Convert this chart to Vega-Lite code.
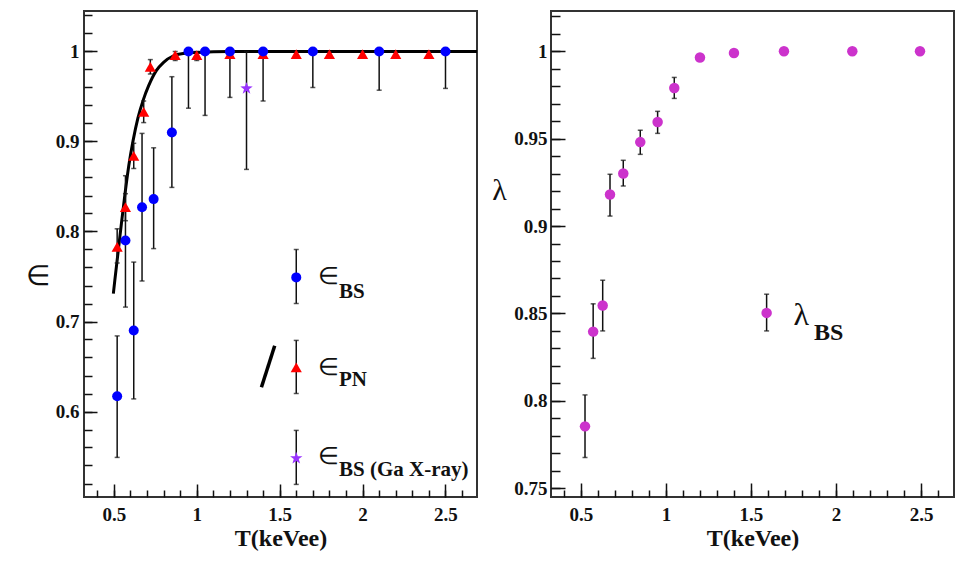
{
  "$schema": "https://vega.github.io/schema/vega-lite/v6.json",
  "background": "white",
  "padding": {"left": 24, "top": 10, "right": 7, "bottom": 5},
  "spacing": 74,
  "bounds": "flush",
  "config": {
    "view": {"stroke": "#333", "strokeWidth": 2},
    "axis": {"labelFont": "Liberation Serif", "labelFontWeight": "bold", "labelFontSize": 19, "labelColor": "#111", "titleFont": "Liberation Serif", "titleColor": "#111", "tickColor": "#111", "tickWidth": 1.5, "domain": false, "grid": false, "labelFlush": false, "labelOverlap": false}
  },
  "datasets": {
    "curve": [
      {"T": 0.497, "eff": 0.731}, {"T": 0.506, "eff": 0.746}, {"T": 0.54, "eff": 0.8}, {"T": 0.566, "eff": 0.84},
      {"T": 0.59, "eff": 0.873}, {"T": 0.616, "eff": 0.901}, {"T": 0.645, "eff": 0.926}, {"T": 0.677, "eff": 0.946},
      {"T": 0.71, "eff": 0.962}, {"T": 0.757, "eff": 0.979}, {"T": 0.8, "eff": 0.988}, {"T": 0.857, "eff": 0.995},
      {"T": 0.93, "eff": 0.998}, {"T": 1.0, "eff": 0.999}, {"T": 1.2, "eff": 1.0}, {"T": 2.69, "eff": 1.0}
    ],
    "eps": [
      {"s": "BS", "T": 0.52, "eff": 0.617, "lo": 0.549, "hi": 0.684},
      {"s": "BS", "T": 0.57, "eff": 0.79, "lo": 0.716, "hi": 0.862},
      {"s": "BS", "T": 0.62, "eff": 0.69, "lo": 0.614, "hi": 0.766},
      {"s": "BS", "T": 0.67, "eff": 0.827, "lo": 0.745, "hi": 0.909},
      {"s": "BS", "T": 0.74, "eff": 0.836, "lo": 0.781, "hi": 0.893},
      {"s": "BS", "T": 0.85, "eff": 0.91, "lo": 0.849, "hi": 0.972},
      {"s": "BS", "T": 0.95, "eff": 1.0, "lo": 0.937, "hi": 1.0},
      {"s": "BS", "T": 1.05, "eff": 1.0, "lo": 0.929, "hi": 1.0},
      {"s": "BS", "T": 1.2, "eff": 1.0, "lo": 0.949, "hi": 1.0},
      {"s": "BS", "T": 1.4, "eff": 1.0, "lo": 0.945, "hi": 1.0},
      {"s": "BS", "T": 1.7, "eff": 1.0, "lo": 0.96, "hi": 1.0},
      {"s": "BS", "T": 2.1, "eff": 1.0, "lo": 0.957, "hi": 1.0},
      {"s": "BS", "T": 2.5, "eff": 1.0, "lo": 0.959, "hi": 1.0},
      {"s": "PN", "T": 0.52, "eff": 0.783, "lo": 0.765, "hi": 0.803},
      {"s": "PN", "T": 0.57, "eff": 0.827, "lo": 0.812, "hi": 0.842},
      {"s": "PN", "T": 0.62, "eff": 0.884, "lo": 0.87, "hi": 0.898},
      {"s": "PN", "T": 0.68, "eff": 0.933, "lo": 0.921, "hi": 0.945},
      {"s": "PN", "T": 0.72, "eff": 0.983, "lo": 0.975, "hi": 0.991},
      {"s": "PN", "T": 0.87, "eff": 0.996, "lo": 0.99, "hi": 1.0},
      {"s": "PN", "T": 1.0, "eff": 0.996, "lo": 0.99, "hi": 1.0},
      {"s": "PN", "T": 1.2, "eff": 0.997, "lo": 0.994, "hi": 1.0},
      {"s": "PN", "T": 1.4, "eff": 0.997, "lo": 0.994, "hi": 1.0},
      {"s": "PN", "T": 1.6, "eff": 0.997, "lo": 0.995, "hi": 1.0},
      {"s": "PN", "T": 1.8, "eff": 0.997, "lo": 0.995, "hi": 1.0},
      {"s": "PN", "T": 2.0, "eff": 0.997, "lo": 0.995, "hi": 1.0},
      {"s": "PN", "T": 2.2, "eff": 0.997, "lo": 0.995, "hi": 1.0},
      {"s": "PN", "T": 2.4, "eff": 0.997, "lo": 0.995, "hi": 1.0},
      {"s": "GaX", "T": 1.3, "eff": 0.959, "lo": 0.869, "hi": 1.0},
      {"s": "BS", "T": 1.6, "eff": 0.749, "lo": 0.72, "hi": 0.78},
      {"s": "PN", "T": 1.6, "eff": 0.649, "lo": 0.62, "hi": 0.679},
      {"s": "GaX", "T": 1.6, "eff": 0.548, "lo": 0.519, "hi": 0.579}
    ],
    "legline": [{"T": 1.39, "eff": 0.627}, {"T": 1.47, "eff": 0.673}],
    "textL": [
      {"k": "sym", "T": 1.732, "eff": 0.75, "t": "∈"},
      {"k": "sub", "T": 1.858, "eff": 0.733, "t": "BS"},
      {"k": "sym", "T": 1.732, "eff": 0.648, "t": "∈"},
      {"k": "sub", "T": 1.858, "eff": 0.635, "t": "PN"},
      {"k": "sym", "T": 1.732, "eff": 0.55, "t": "∈"},
      {"k": "sub", "T": 1.858, "eff": 0.535, "t": "BS (Ga X-ray)"}
    ],
    "lam": [
      {"T": 0.524, "v": 0.7854, "lo": 0.7676, "hi": 0.8034},
      {"T": 0.572, "v": 0.8396, "lo": 0.8243, "hi": 0.8555},
      {"T": 0.628, "v": 0.8545, "lo": 0.84, "hi": 0.869},
      {"T": 0.671, "v": 0.918, "lo": 0.9057, "hi": 0.9296},
      {"T": 0.749, "v": 0.93, "lo": 0.9229, "hi": 0.9376},
      {"T": 0.849, "v": 0.948, "lo": 0.941, "hi": 0.9548},
      {"T": 0.951, "v": 0.9595, "lo": 0.953, "hi": 0.9656},
      {"T": 1.049, "v": 0.979, "lo": 0.973, "hi": 0.985},
      {"T": 1.2, "v": 0.9964, "lo": 0.995, "hi": 0.9978},
      {"T": 1.4, "v": 0.999, "lo": 0.998, "hi": 1.0},
      {"T": 1.694, "v": 1.0, "lo": 1.0, "hi": 1.0},
      {"T": 2.096, "v": 1.0, "lo": 1.0, "hi": 1.0},
      {"T": 2.494, "v": 1.0, "lo": 1.0, "hi": 1.0},
      {"T": 1.592, "v": 0.8503, "lo": 0.84, "hi": 0.861}
    ],
    "textR": [
      {"k": "sym", "T": 1.75, "v": 0.849, "t": "λ"},
      {"k": "sub", "T": 1.87, "v": 0.839, "t": "BS"}
    ]
  },
  "hconcat": [
    {
      "width": 393,
      "height": 486,
      "layer": [
        {
          "data": {"name": "curve"},
          "mark": {"type": "line", "interpolate": "monotone", "color": "#000", "strokeWidth": 3, "clip": true},
          "encoding": {
            "x": {"field": "T", "type": "quantitative", "scale": {"domain": [0.32, 2.69], "nice": false, "zero": false},
              "axis": {"orient": "bottom", "values": [0.4, 0.5, 0.6, 0.7, 0.8, 0.9, 1.0, 1.1, 1.2, 1.3, 1.4, 1.5, 1.6, 1.7, 1.8, 1.9, 2.0, 2.1, 2.2, 2.3, 2.4, 2.5, 2.6], "labels": false, "tickSize": -7, "title": null}},
            "y": {"field": "eff", "type": "quantitative", "scale": {"domain": [0.505, 1.045], "nice": false, "zero": false},
              "axis": {"orient": "left", "values": [0.52, 0.54, 0.56, 0.58, 0.6, 0.62, 0.64, 0.66, 0.68, 0.7, 0.72, 0.74, 0.76, 0.78, 0.8, 0.82, 0.84, 0.86, 0.88, 0.9, 0.92, 0.94, 0.96, 0.98, 1.0, 1.02, 1.04], "labels": false, "tickSize": -8, "title": null}}
          }
        },
        {
          "data": {"name": "eps"},
          "mark": {"type": "rule", "color": "#111", "strokeWidth": 1.5},
          "encoding": {
            "x": {"field": "T", "type": "quantitative", "axis": null},
            "y": {"field": "lo", "type": "quantitative", "axis": null},
            "y2": {"field": "hi"}
          }
        },
        {
          "data": {"name": "eps"},
          "mark": {"type": "tick", "orient": "horizontal", "color": "#111", "size": 5, "thickness": 1.5},
          "encoding": {
            "x": {"field": "T", "type": "quantitative", "axis": null},
            "y": {"field": "lo", "type": "quantitative", "axis": null}
          }
        },
        {
          "data": {"name": "eps"},
          "mark": {"type": "tick", "orient": "horizontal", "color": "#111", "size": 5, "thickness": 1.5},
          "encoding": {
            "x": {"field": "T", "type": "quantitative", "axis": null},
            "y": {"field": "hi", "type": "quantitative", "axis": null}
          }
        },
        {
          "data": {"name": "eps"},
          "transform": [{"filter": "datum.s === 'PN'"}],
          "mark": {"type": "point", "shape": "triangle-up", "filled": true, "color": "#ff0000", "size": 125, "opacity": 1},
          "encoding": {
            "x": {"field": "T", "type": "quantitative", "axis": null},
            "y": {"field": "eff", "type": "quantitative", "axis": null}
          }
        },
        {
          "data": {"name": "eps"},
          "transform": [{"filter": "datum.s === 'BS'"}],
          "mark": {"type": "point", "shape": "circle", "filled": true, "color": "#0000ff", "size": 100, "opacity": 1},
          "encoding": {
            "x": {"field": "T", "type": "quantitative",
              "axis": {"orient": "bottom", "values": [0.5, 1, 1.5, 2, 2.5], "format": "~g", "tickSize": -13, "labelPadding": 21, "title": "T(keVee)", "titleFontSize": 24, "titleFontWeight": "bold", "titlePadding": 2}},
            "y": {"field": "eff", "type": "quantitative",
              "axis": {"orient": "left", "values": [0.6, 0.7, 0.8, 0.9, 1], "format": "~g", "tickSize": -13, "labelPadding": 18, "title": "∈", "titleAngle": 0, "titleX": -47, "titleY": 265, "titleAlign": "center", "titleBaseline": "middle", "titleFontSize": 28, "titleFontWeight": "normal"}}
          }
        },
        {
          "data": {"name": "eps"},
          "transform": [{"filter": "datum.s === 'GaX'"}],
          "mark": {"type": "point", "shape": "M0,-1L0.235,-0.324L0.951,-0.309L0.38,0.124L0.588,0.809L0,0.4L-0.588,0.809L-0.38,0.124L-0.951,-0.309L-0.235,-0.324Z", "filled": true, "color": "#9933ff", "size": 170, "opacity": 1},
          "encoding": {
            "x": {"field": "T", "type": "quantitative", "axis": null},
            "y": {"field": "eff", "type": "quantitative", "axis": null}
          }
        },
        {
          "data": {"name": "legline"},
          "mark": {"type": "line", "color": "#000", "strokeWidth": 3.5},
          "encoding": {
            "x": {"field": "T", "type": "quantitative", "axis": null},
            "y": {"field": "eff", "type": "quantitative", "axis": null}
          }
        },
        {
          "data": {"name": "textL"},
          "transform": [{"filter": "datum.k === 'sym'"}],
          "mark": {"type": "text", "align": "left", "baseline": "middle", "font": "Liberation Serif", "fontSize": 24, "color": "#111"},
          "encoding": {
            "x": {"field": "T", "type": "quantitative", "axis": null},
            "y": {"field": "eff", "type": "quantitative", "axis": null},
            "text": {"field": "t"}
          }
        },
        {
          "data": {"name": "textL"},
          "transform": [{"filter": "datum.k === 'sub'"}],
          "mark": {"type": "text", "align": "left", "baseline": "middle", "font": "Liberation Serif", "fontSize": 21, "fontWeight": "bold", "color": "#111"},
          "encoding": {
            "x": {"field": "T", "type": "quantitative", "axis": null},
            "y": {"field": "eff", "type": "quantitative", "axis": null},
            "text": {"field": "t"}
          }
        }
      ],
      "resolve": {"axis": {"x": "independent", "y": "independent"}}
    },
    {
      "width": 403,
      "height": 486,
      "layer": [
        {
          "data": {"name": "lam"},
          "mark": {"type": "rule", "color": "#111", "strokeWidth": 1.5},
          "encoding": {
            "x": {"field": "T", "type": "quantitative", "scale": {"domain": [0.324, 2.694], "nice": false, "zero": false},
              "axis": {"orient": "bottom", "values": [0.4, 0.5, 0.6, 0.7, 0.8, 0.9, 1.0, 1.1, 1.2, 1.3, 1.4, 1.5, 1.6, 1.7, 1.8, 1.9, 2.0, 2.1, 2.2, 2.3, 2.4, 2.5, 2.6], "labels": false, "tickSize": -7, "title": null}},
            "y": {"field": "lo", "type": "quantitative", "scale": {"domain": [0.745, 1.023], "nice": false, "zero": false},
              "axis": {"orient": "left", "values": [0.75, 0.76, 0.77, 0.78, 0.79, 0.8, 0.81, 0.82, 0.83, 0.84, 0.85, 0.86, 0.87, 0.88, 0.89, 0.9, 0.91, 0.92, 0.93, 0.94, 0.95, 0.96, 0.97, 0.98, 0.99, 1.0, 1.01, 1.02], "labels": false, "tickSize": -9, "title": null}},
            "y2": {"field": "hi"}
          }
        },
        {
          "data": {"name": "lam"},
          "mark": {"type": "tick", "orient": "horizontal", "color": "#111", "size": 5, "thickness": 1.5},
          "encoding": {
            "x": {"field": "T", "type": "quantitative", "axis": null},
            "y": {"field": "lo", "type": "quantitative", "axis": null}
          }
        },
        {
          "data": {"name": "lam"},
          "mark": {"type": "tick", "orient": "horizontal", "color": "#111", "size": 5, "thickness": 1.5},
          "encoding": {
            "x": {"field": "T", "type": "quantitative", "axis": null},
            "y": {"field": "hi", "type": "quantitative", "axis": null}
          }
        },
        {
          "data": {"name": "lam"},
          "mark": {"type": "point", "shape": "circle", "filled": true, "color": "#cc33cc", "size": 110, "opacity": 1},
          "encoding": {
            "x": {"field": "T", "type": "quantitative",
              "axis": {"orient": "bottom", "values": [0.5, 1, 1.5, 2, 2.5], "format": "~g", "tickSize": -14, "labelPadding": 22, "title": "T(keVee)", "titleFontSize": 24, "titleFontWeight": "bold", "titlePadding": 2}},
            "y": {"field": "v", "type": "quantitative",
              "axis": {"orient": "left", "values": [0.75, 0.8, 0.85, 0.9, 0.95, 1], "format": "~g", "tickSize": -14, "labelPadding": 18, "title": "λ", "titleAngle": 0, "titleX": -52, "titleY": 179, "titleAlign": "center", "titleBaseline": "middle", "titleFontSize": 30, "titleFontWeight": "normal"}}
          }
        },
        {
          "data": {"name": "textR"},
          "transform": [{"filter": "datum.k === 'sym'"}],
          "mark": {"type": "text", "align": "left", "baseline": "middle", "font": "Liberation Serif", "fontSize": 32, "color": "#111"},
          "encoding": {
            "x": {"field": "T", "type": "quantitative", "axis": null},
            "y": {"field": "v", "type": "quantitative", "axis": null},
            "text": {"field": "t"}
          }
        },
        {
          "data": {"name": "textR"},
          "transform": [{"filter": "datum.k === 'sub'"}],
          "mark": {"type": "text", "align": "left", "baseline": "middle", "font": "Liberation Serif", "fontSize": 24, "fontWeight": "bold", "color": "#111"},
          "encoding": {
            "x": {"field": "T", "type": "quantitative", "axis": null},
            "y": {"field": "v", "type": "quantitative", "axis": null},
            "text": {"field": "t"}
          }
        }
      ],
      "resolve": {"axis": {"x": "independent", "y": "independent"}}
    }
  ]
}
